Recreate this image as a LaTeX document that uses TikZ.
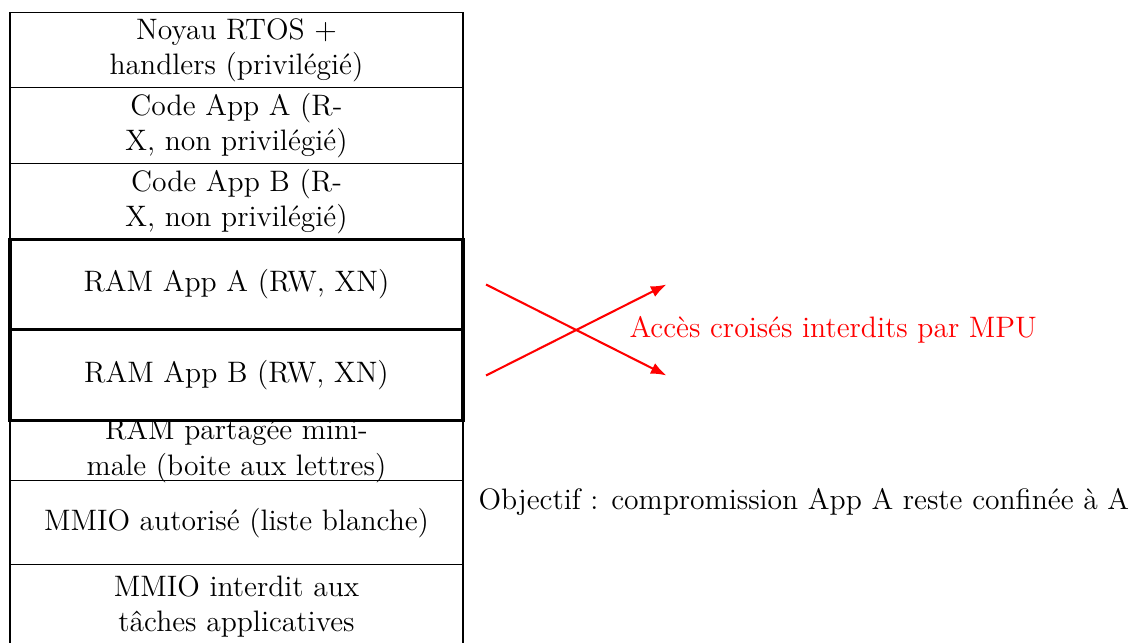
\documentclass[tikz,border=0pt]{standalone}
\usetikzlibrary{arrows.meta}
\begin{document}
\begin{tikzpicture}[x=0.3846pt,y=-0.3846pt,
  every node/.style={font=\fontsize{11.38pt}{13.5pt}\selectfont},
  region/.style={draw,line width=0.45pt,inner sep=0pt,align=center,
    minimum width={453*0.3846pt}},
  appram/.style={region,line width=1.2pt,fill=white},
  forbid/.style={red,line width=0.8pt,-{Latex[length=6pt,width=4.5pt]}}]
\clip (0,0) rectangle (1129,643);
% memory map, top to bottom
\node[region,minimum height={75.5*0.3846pt}] (noyau) at (236.5,50) {Noyau RTOS +\\handlers (privilégié)};
\node[region,minimum height={75.6*0.3846pt}] (codeA) at (236.5,125.5) {Code App A (R-\\X, non privilégié)};
\node[region,minimum height={75.7*0.3846pt}] (codeB) at (236.5,201.2) {Code App B (R-\\X, non privilégié)};
\node[region,minimum height={60.2*0.3846pt},
  label={[name=sharedtext,align=center,inner sep=0pt]center:RAM partagée mini-\\male (boite aux lettres)}] (shared) at (236.5,450.6) {};
\node[region,minimum height={84*0.3846pt}] (mmioA) at (236.5,522.7) {MMIO autorisé (liste blanche)};
\node[region,minimum height={84*0.3846pt}] (mmioI) at (236.5,606.7) {MMIO interdit aux\\tâches applicatives};
% isolated application RAM
\node[appram,minimum height={90*0.3846pt}] (ramA) at (236.5,284.5) {RAM App A (RW, XN)};
\node[appram,minimum height={91*0.3846pt}] (ramB) at (236.5,375) {RAM App B (RW, XN)};
% forbidden cross accesses
\coordinate (a0) at (486,284.5);
\coordinate (a1) at (666.5,375.5);
\coordinate (b0) at (486,375.5);
\coordinate (b1) at (666.5,284.5);
\draw[forbid] (a0) -- (a1);
\draw[forbid] (b0) -- (b1);
\node[red,anchor=west,inner sep=0pt] (mpu) at (629,330) {Accès croisés interdits par MPU};
\node[anchor=west,inner sep=0pt] (goal) at (478,502) {Objectif : compromission App A reste confinée à A};
\end{tikzpicture}
\end{document}
